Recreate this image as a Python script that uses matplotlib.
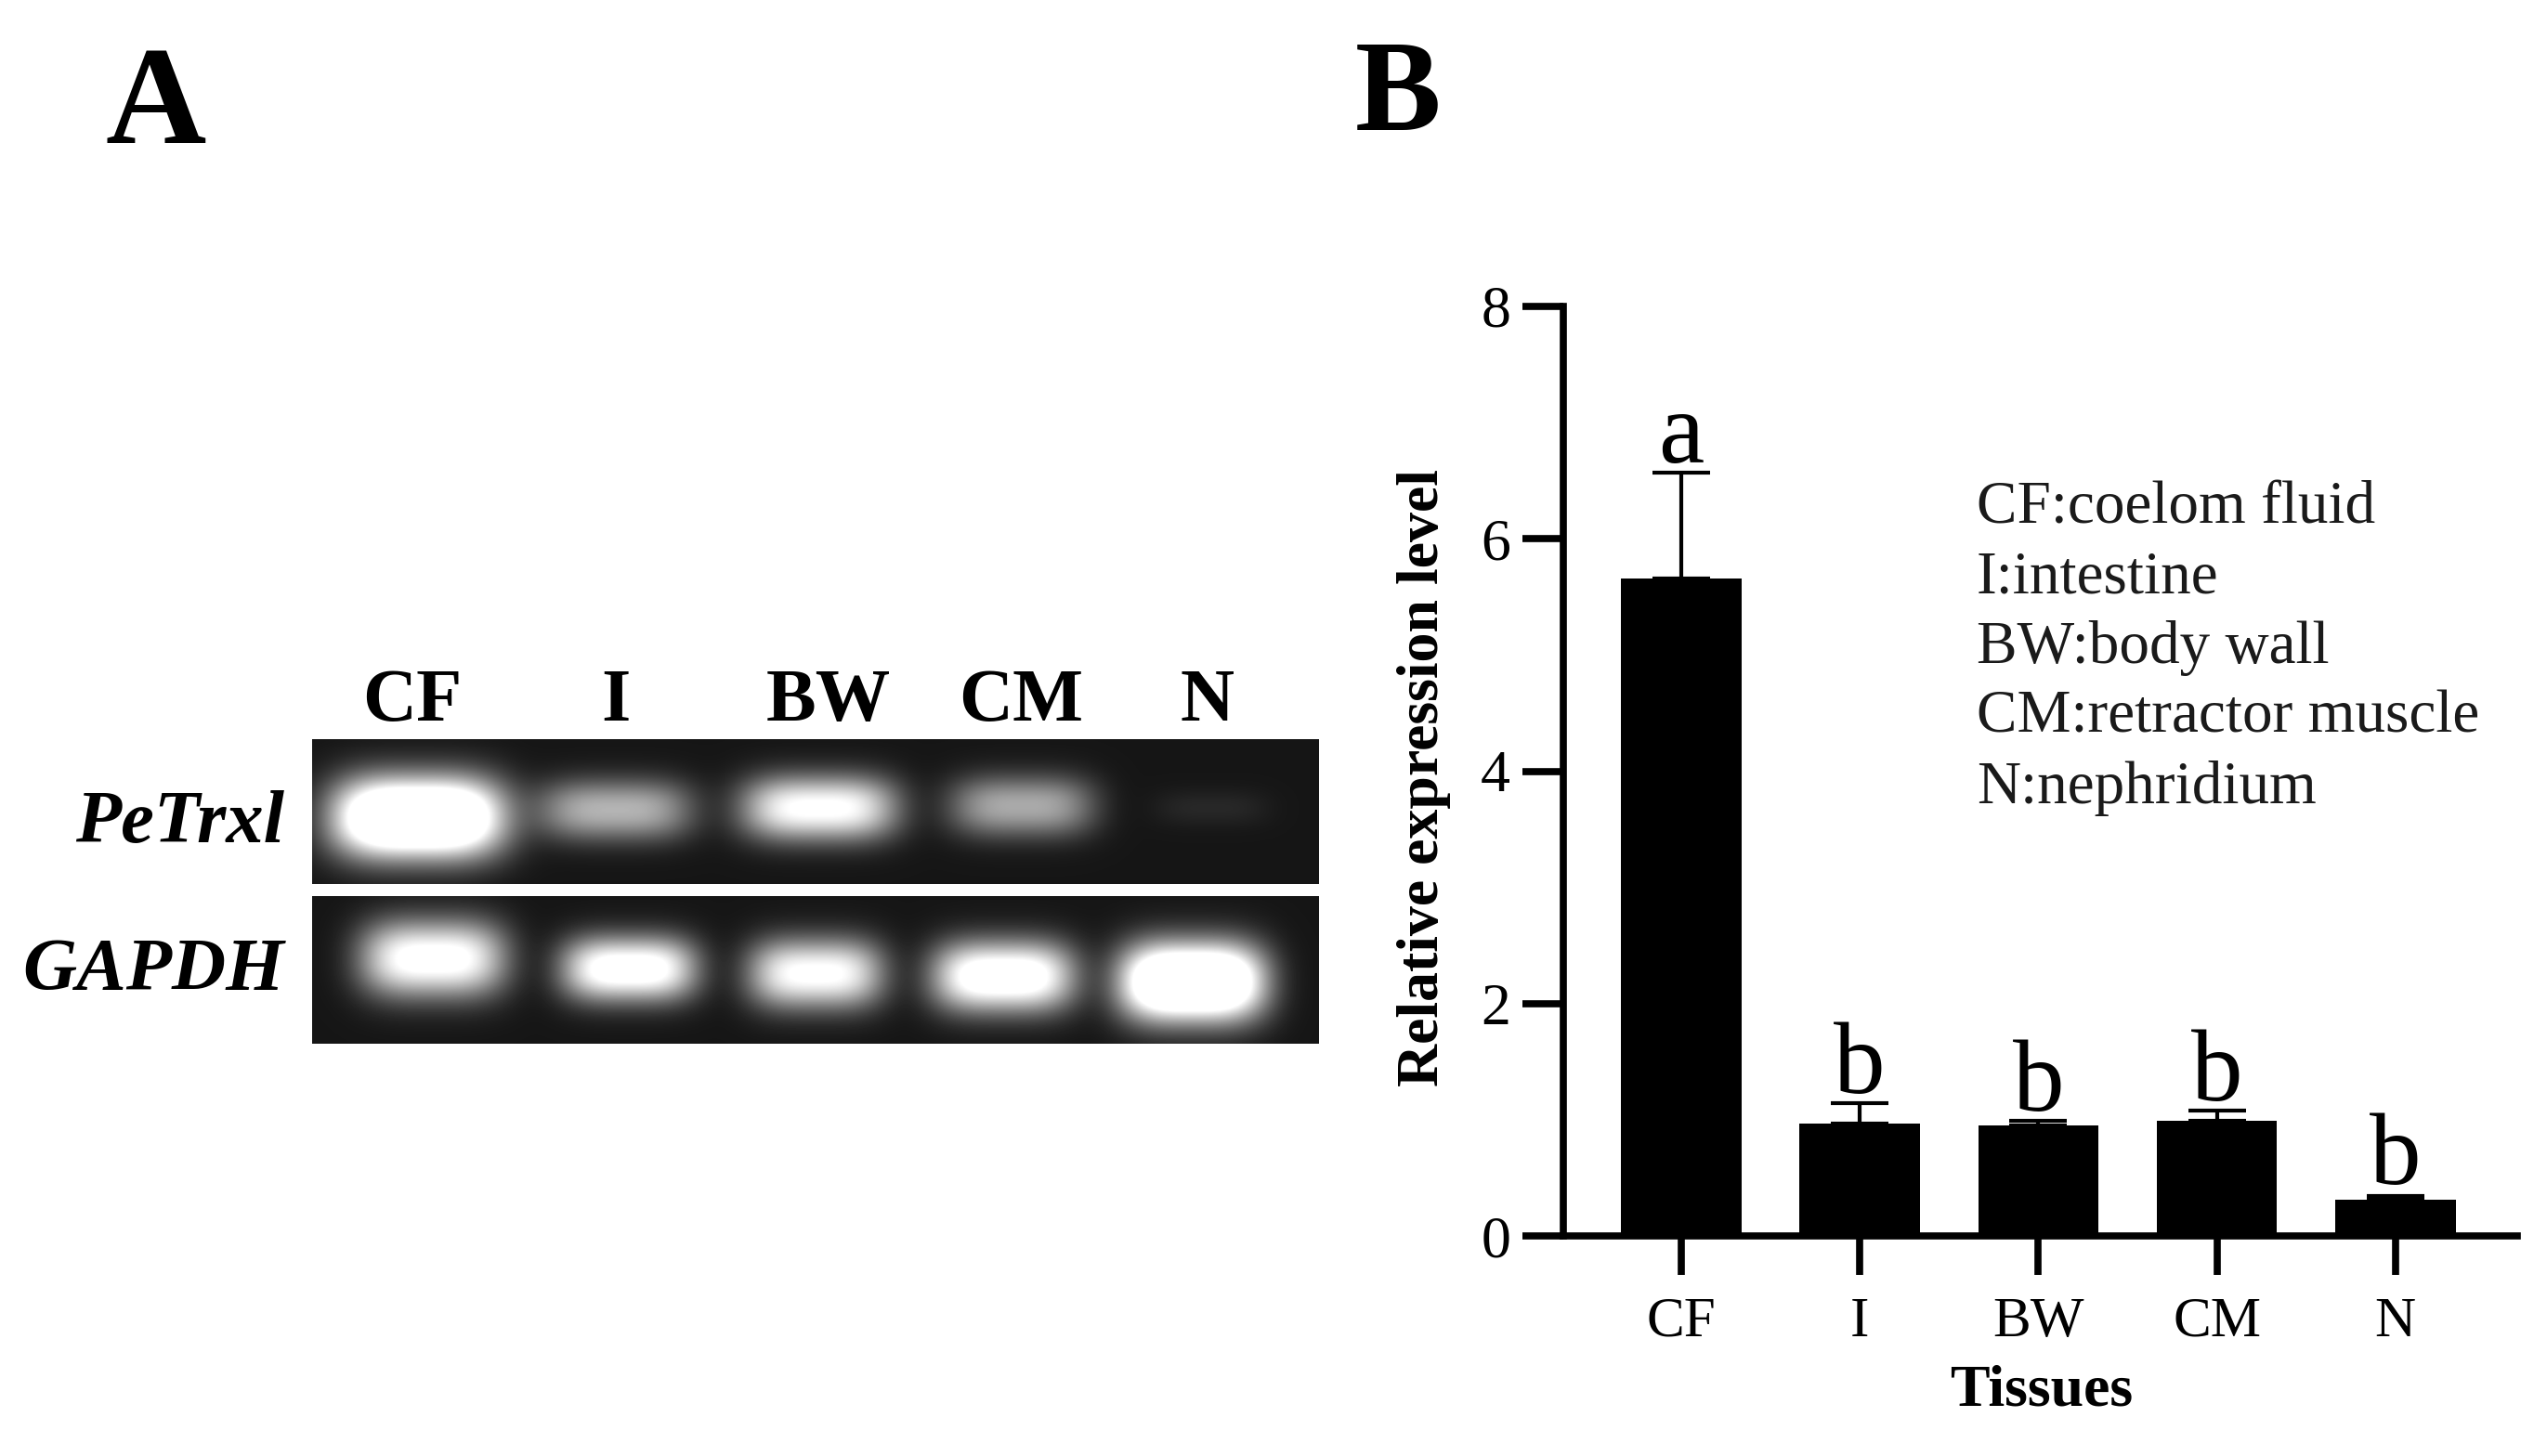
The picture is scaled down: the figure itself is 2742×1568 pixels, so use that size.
import numpy as np
import matplotlib
matplotlib.use('Agg')
import matplotlib.pyplot as plt

plt.rcParams['font.family'] = ['Liberation Serif', 'DejaVu Serif']

W, H = 2742, 1568

# panel B values
tissues = ['CF', 'I', 'BW', 'CM', 'N']
expression = [5.66, 0.97, 0.955, 0.99, 0.315]
upper_err = [0.91, 0.175, 0.035, 0.09, 0.025]
sig_letters = ['a', 'b', 'b', 'b', 'b']
letter_y = [6.66, 1.23, 1.075, 1.17, 0.45]
y_ticks = [0, 2, 4, 6, 8]
legend_lines = ['CF:coelom fluid', 'I:intestine', 'BW:body wall',
                'CM:retractor muscle', 'N:nephridium']

# panel A bands: centre x, centre y, width, height (px of the reference), brightness
petrxl_x = [450, 662, 882, 1100, 1304]
petrxl_y = [880, 872, 870, 868, 870]
petrxl_w = [166, 150, 150, 140, 110]
petrxl_h = [67, 50, 53, 50, 30]
petrxl_b = [1.5, 0.62, 0.95, 0.58, 0.07]
gapdh_x = [466, 677, 878, 1080, 1283]
gapdh_y = [1032, 1043, 1048, 1051, 1057]
gapdh_w = [140, 130, 130, 137, 140]
gapdh_h = [63, 53, 57, 58, 65]
gapdh_b = [1.0, 1.05, 0.95, 1.1, 1.5]


def px_axes(x0, y0, x1, y1):
    return plt.gcf().add_axes([x0 / W, 1 - y1 / H, (x1 - x0) / W, (y1 - y0) / H])


def px_text(x, y, s, **kw):
    kw.setdefault('color', 'black')
    plt.gcf().text(x / W, 1 - y / H, s, **kw)


def draw_gel(x0, y0, x1, y1, xs, ys, ws, hs, bs):
    ax = px_axes(x0, y0, x1, y1)
    xx, yy = np.meshgrid(np.arange(x0, x1), np.arange(y0, y1))
    img = np.full(xx.shape, 0.085)
    for cx, cy, w, h, b in zip(xs, ys, ws, hs, bs):
        # flat topped blob for each band
        img += b * np.exp(-np.abs((xx - cx) / (w * 0.56)) ** 3.4
                          - np.abs((yy - cy) / (h * 0.66)) ** 2.2)
    ax.imshow(np.clip(img, 0, 1), cmap='gray', vmin=0, vmax=1,
              extent=(x0, x1, y1, y0), aspect='auto', interpolation='bilinear')
    ax.axis('off')


fig = plt.figure(figsize=(W / 100, H / 100), dpi=100, facecolor='white')

# A : gel
draw_gel(336, 796, 1420, 952, petrxl_x, petrxl_y, petrxl_w, petrxl_h, petrxl_b)
draw_gel(336, 965, 1420, 1124, gapdh_x, gapdh_y, gapdh_w, gapdh_h, gapdh_b)

lane_x = [444, 663, 892, 1099, 1300]
for x, t in zip(lane_x, tissues):
    px_text(x, 757, t, fontsize=58, fontweight='bold', ha='center', va='center')
px_text(306, 887, 'PeTrxl', fontsize=58, fontweight='bold', fontstyle='italic',
        ha='right', va='center')
px_text(306, 1047, 'GAPDH', fontsize=58, fontweight='bold', fontstyle='italic',
        ha='right', va='center')

px_text(168, 118, 'A', fontsize=108, fontweight='bold', ha='center', va='center')
px_text(1505, 106, 'B', fontsize=100, fontweight='bold', ha='center', va='center')

# B : bars
ax = px_axes(1683, 330, 2710, 1331)
x_pos = np.arange(len(tissues))
ax.bar(x_pos, expression, width=0.675, color='black', zorder=3)
ax.errorbar(x_pos, expression, yerr=[[0] * 5, upper_err], fmt='none', ecolor='black',
            elinewidth=3, capsize=22, capthick=3, zorder=2)
for x, v, s in zip(x_pos, letter_y, sig_letters):
    ax.text(x, v, s, fontsize=80, ha='center', va='baseline', zorder=4)

ax.set_xlim(-0.661, 4.683)
ax.set_ylim(0, 8)
ax.set_xticks(x_pos)
ax.set_xticklabels(tissues, fontsize=44)
ax.set_yticks(y_ticks)
ax.tick_params(axis='y', labelsize=46, length=32, width=5.5, pad=9)
ax.tick_params(axis='x', length=30, width=5.5, pad=17)
ax.spines['top'].set_visible(False)
ax.spines['right'].set_visible(False)
ax.spines['left'].set_linewidth(5.5)
ax.spines['bottom'].set_linewidth(5.5)
ax.spines['bottom'].set_zorder(5)
ax.patch.set_alpha(0)

px_text(1533, 838, 'Relative expression level', fontsize=46, fontweight='bold',
        rotation=90, ha='center', va='center')
px_text(2198, 1499, 'Tissues', fontsize=46, fontweight='bold', ha='center', va='center')

for y, s in zip([548, 623, 698, 773, 849], legend_lines):
    px_text(2128, y, s, fontsize=47, ha='left', va='center', color='#1a1a1a')

fig.savefig('out.png', dpi=100)
